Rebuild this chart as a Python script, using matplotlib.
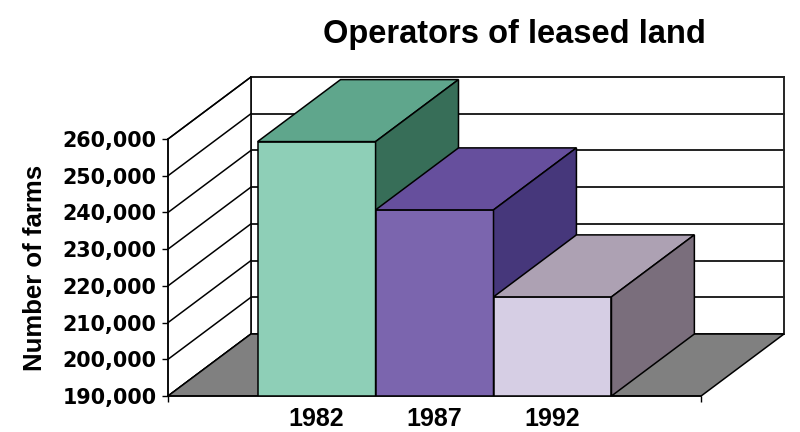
import matplotlib.pyplot as plt
from matplotlib.ticker import FuncFormatter

years = ['1982', '1987', '1992']
farms = [259300, 240700, 217000]
front_colors = ['#8ECFB7', '#7B65AE', '#D6CEE4']
top_colors = ['#5FA68C', '#664F9D', '#ADA1B3']
side_colors = ['#376E58', '#46377B', '#7A6E7C']
y_ticks = [190000, 200000, 210000, 220000, 230000, 240000, 250000, 260000]

# fake 3-D: front plane in data units, depth drawn as an oblique offset
X0, X1 = -0.26, 4.26
DX = 0.703
DY = 16890
YMIN, YMAX = 190000, 260000

fig = plt.figure(figsize=(8, 4.32), dpi=100)
ax = fig.add_axes([0.21, 0.0833, 0.77, 0.7384])
ax.set_xlim(X0, X1 + DX)
ax.set_ylim(YMIN, YMAX + DY)

# back wall with gridlines
ax.fill([X0 + DX, X1 + DX, X1 + DX, X0 + DX],
        [YMIN + DY, YMIN + DY, YMAX + DY, YMAX + DY],
        facecolor='white', edgecolor='black', lw=1.2, zorder=1, clip_on=False)
for v in y_ticks:
    ax.plot([X0 + DX, X1 + DX], [v + DY, v + DY], color='#222222', lw=1.4,
            zorder=1, clip_on=False)

# left side wall
ax.fill([X0, X0 + DX, X0 + DX, X0], [YMIN, YMIN + DY, YMAX + DY, YMAX],
        facecolor='white', edgecolor='black', lw=1.0, zorder=1, clip_on=False)
for v in y_ticks:
    ax.plot([X0, X0 + DX], [v, v + DY], color='black', lw=1.1, zorder=1,
            clip_on=False)

# floor
ax.fill([X0, X1, X1 + DX, X0 + DX], [YMIN, YMIN, YMIN + DY, YMIN + DY],
        facecolor='#808080', edgecolor='black', lw=1.1, zorder=2, clip_on=False)

# bars, left to right so each one hides the side of the previous
for i, v in enumerate(farms):
    x = i + 1
    left, right = x - 0.5, x + 0.5
    z = 3 + i
    ax.bar(x, v - YMIN, bottom=YMIN, width=1.0, color=front_colors[i],
           edgecolor='black', lw=1.1, zorder=z)
    ax.fill([left, right, right + DX, left + DX], [v, v, v + DY, v + DY],
            facecolor=top_colors[i], edgecolor='black', lw=1.1, zorder=z)
    ax.fill([right, right + DX, right + DX, right],
            [YMIN, YMIN + DY, v + DY, v],
            facecolor=side_colors[i], edgecolor='black', lw=1.1, zorder=z)

# axes
for s in ['top', 'right']:
    ax.spines[s].set_visible(False)
ax.spines['left'].set_bounds(YMIN, YMAX)
ax.spines['bottom'].set_bounds(X0, X1)
ax.spines['left'].set_linewidth(1.1)
ax.spines['bottom'].set_linewidth(1.1)

ax.set_yticks(y_ticks)
ax.yaxis.set_major_formatter(FuncFormatter(lambda v, p: f'{int(v):,}'))
ax.tick_params(axis='y', length=4.3, width=1, pad=4)
for lab in ax.get_yticklabels():
    lab.set_fontfamily('DejaVu Sans')
    lab.set_fontweight('bold')
    lab.set_fontsize(14.9)

ax.set_xticks([1, 2, 3])
ax.set_xticklabels(years, fontfamily='Liberation Sans', fontweight='bold',
                   fontsize=18)
ax.set_xticks([X0, X1], minor=True)
ax.tick_params(axis='x', which='major', length=0, pad=8)
ax.tick_params(axis='x', which='minor', length=4, width=1)

fig.text(35 / 800, 1 - 268 / 432, 'Number of farms', rotation=90,
         ha='center', va='center', fontfamily='Liberation Sans',
         fontweight='bold', fontsize=18.5)
fig.text(514 / 800, 1 - 35 / 432, 'Operators of leased land',
         ha='center', va='center', fontfamily='Liberation Sans',
         fontweight='bold', fontsize=23.5)

fig.savefig('out.png', dpi=100)
